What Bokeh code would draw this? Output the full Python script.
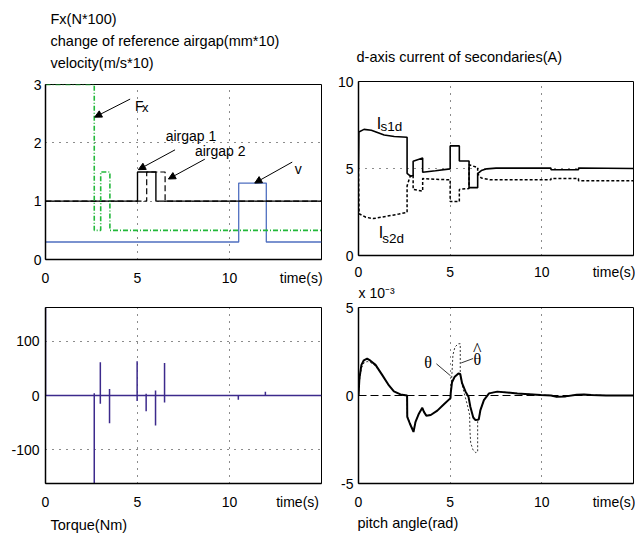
from bokeh.plotting import figure
from bokeh.models import Range1d, FixedTicker, Label, Arrow, NormalHead, Title
from bokeh.layouts import row, column
from bokeh.embed import file_html
from bokeh.resources import INLINE

# ---------------- data ----------------
x_ticks = [0, 5, 10]

# panel 1: Fx, airgap references, velocity
fx_t = [0, 2.65, 2.65, 3.0, 3.0, 3.5, 3.5, 15]
fx_v = [3, 3, 0.5, 0.5, 1.5, 1.5, 0.5, 0.5]
ag1_t = [0, 5.0, 5.0, 6.0, 6.0, 15]
ag1_v = [1, 1, 1.5, 1.5, 1, 1]
ag2_t = [0, 5.5, 5.5, 6.5, 6.5, 15]
ag2_v = [1, 1, 1.5, 1.5, 1, 1]
vel_t = [0, 10.5, 10.5, 12.0, 12.0, 15]
vel_v = [0.3, 0.3, 1.31, 1.31, 0.3, 0.3]
p1_yticks = [0, 1, 2, 3]

# panel 2: d-axis currents
is1_t = [0, 0.02, 0.3, 0.7, 1.4, 1.95, 2.65, 2.65, 2.85, 2.98, 2.98, 3.5, 3.5, 4.2, 5.0, 5.0,
         5.5, 5.5, 6.03, 6.03, 6.5, 6.5, 6.7, 7.0, 7.5, 10.5, 10.5, 12.0, 12.0, 15]
is1_v = [5.0, 7.1, 7.25, 7.2, 6.93, 6.84, 6.8, 4.72, 4.55, 4.6, 5.42, 5.6, 4.78, 4.87, 4.98, 6.3,
         6.3, 5.43, 5.43, 3.9, 3.9, 4.7, 4.88, 4.98, 5.02, 5.02, 4.93, 4.93, 5.03, 5.0]
is2_t = [0, 0.03, 0.4, 0.8, 1.5, 2.2, 2.65, 2.65, 2.8, 2.9, 2.98, 2.98, 3.5, 3.5, 4.2, 5.0, 5.0,
         5.5, 5.5, 6.03, 6.03, 6.5, 6.5, 6.7, 7.2, 10.5, 10.5, 12.0, 12.0, 15]
is2_v = [5.0, 2.4, 2.2, 2.12, 2.25, 2.38, 2.48, 4.0, 4.5, 4.65, 4.6, 3.8, 3.7, 4.42, 4.38, 4.35, 3.1,
         3.1, 3.8, 3.85, 5.22, 5.05, 4.7, 4.45, 4.35, 4.35, 4.42, 4.42, 4.3, 4.3]
p2_yticks = [0, 5, 10]

# panel 3: torque spikes
tq_base_t = [0, 15]
tq_base_v = [0, 0]
sp_t = [0.0, 2.65, 2.98, 3.48, 4.98, 5.47, 5.98, 6.47, 10.48, 11.95]
sp_hi = [162, 4, 61, 12, 63, 3, 9, 60, 0, 7]
sp_lo = [0, -162, -15, -51, -10, -29, -55, -13, -8, 0]
p3_yticks = [-100, 0, 100]

# panel 4: pitch angle (x 1e-3 rad)
th_t = [0, 0.05, 0.16, 0.29, 0.47, 0.65, 0.93, 1.29, 1.66, 1.93, 2.29, 2.65, 2.66, 2.8, 3.0, 3.11,
        3.3, 3.48, 3.57, 3.7, 3.94, 4.3, 4.66, 5.02, 5.03, 5.1, 5.25, 5.45, 5.55, 5.65, 5.84, 6.0,
        6.1, 6.26, 6.38, 6.56, 6.65, 6.84, 7.12, 7.57, 8.66, 9.94, 10.5, 10.8, 11.3, 11.9, 12.3,
        12.7, 13.5, 15]
th_v = [0, 0.98, 1.74, 2.0, 2.09, 1.98, 1.74, 1.17, 0.57, 0.23, 0.06, 0.0, -1.21, -1.59, -2.07, -1.5,
        -1.02, -0.7, -0.93, -1.15, -1.11, -0.86, -0.5, -0.15, 0.13, 0.75, 1.07, 1.25, 1.22, 0.7, 0.22,
        -0.07, -0.64, -1.25, -1.4, -1.36, -0.83, -0.26, 0.12, 0.22, 0.12, 0.03, 0.0, -0.07, -0.05,
        0.04, 0.06, 0.03, 0.0, 0.0]
thh_t = [0, 0.05, 0.16, 0.29, 0.47, 0.65, 0.93, 1.29, 1.66, 1.93, 2.29, 2.65, 2.66, 2.8, 3.0, 3.11,
         3.3, 3.48, 3.57, 3.7, 3.94, 4.3, 4.66, 5.0, 5.05, 5.1, 5.15, 5.26, 5.44, 5.55, 5.55, 5.65,
         5.8, 5.95, 6.06, 6.08, 6.12, 6.25, 6.4, 6.5, 6.5, 6.56, 6.65, 6.84, 7.12, 7.57, 8.66, 9.94,
         10.5, 10.8, 11.3, 11.9, 12.3, 12.7, 13.5, 15]
thh_v = [0, 0.8, 1.55, 1.85, 1.93, 1.88, 1.68, 1.15, 0.57, 0.23, 0.06, 0.0, -1.15, -1.55, -2.0, -1.48,
         -1.0, -0.7, -0.92, -1.12, -1.1, -0.86, -0.5, -0.15, 0.5, 1.3, 2.3, 2.75, 2.94, 2.94, 1.2, 0.6,
         0.0, -0.6, -1.1, -2.0, -2.7, -3.1, -3.25, -3.2, -1.4, -1.36, -0.83, -0.26, 0.12, 0.22, 0.12,
         0.03, 0.0, -0.07, -0.05, 0.04, 0.06, 0.03, 0.0, 0.0]
zero_t = [0, 15]
zero_v = [0, 0]
p4_yticks = [-5, 0, 5]

FONT = "Liberation Sans"


def make_fig(w, h, bl, br, bt, bb, yr, yticks, ygrid, ystand, tpos, xstand=10):
    p = figure(width=w, height=h, x_range=Range1d(0, 15), y_range=Range1d(*yr),
               output_backend="svg", toolbar_location=None,
               min_border_left=bl, min_border_right=br, min_border_top=bt, min_border_bottom=bb)
    p.background_fill_color = "white"
    p.border_fill_color = "white"
    p.outline_line_color = "black"
    p.outline_line_width = 1
    p.outline_line_alpha = 1
    p.xaxis.ticker = FixedTicker(ticks=x_ticks + [tpos])
    p.xaxis.major_label_overrides = {tpos: "time(s)", str(tpos): "time(s)"}
    p.yaxis.ticker = FixedTicker(ticks=yticks)
    neg = {t: str(t) for t in yticks if t < 0}
    neg.update({str(t): str(t) for t in yticks if t < 0})
    p.yaxis.major_label_overrides = neg
    for ax in (p.xaxis, p.yaxis):
        ax.major_tick_in = 0
        ax.major_tick_out = 0
        ax.minor_tick_in = 0
        ax.minor_tick_out = 0
        ax.axis_line_width = 1.5
        ax.axis_line_color = "black"
        ax.major_label_text_font = FONT
        ax.major_label_text_font_size = "14px"
        ax.major_label_text_color = "black"
    p.xaxis.major_label_standoff = xstand
    p.yaxis.major_label_standoff = ystand
    p.xgrid.ticker = FixedTicker(ticks=[5, 10])
    if ygrid:
        p.ygrid.ticker = FixedTicker(ticks=ygrid)
    else:
        p.ygrid.visible = False
    for g in (p.xgrid, p.ygrid):
        g.grid_line_color = "black"
        g.grid_line_dash = "1 6"
        g.grid_line_width = 1
        g.grid_line_alpha = 0.9
    return p


def title(p, text, side, standoff=4.2, offset=0, size="14.5px"):
    p.add_layout(Title(text=text, align="left", offset=offset, standoff=standoff,
                       text_font=FONT, text_font_size=size, text_font_style="normal",
                       text_color="black"), side)


def spacer(p, side, standoff, size="4px"):
    p.add_layout(Title(text=" ", text_font_size=size, standoff=standoff,
                       text_font_style="normal"), side)


def lab(p, x, y, text, size="14px", font=FONT, align="left"):
    p.add_layout(Label(x=x, y=y, text=text, text_font=font, text_font_size=size,
                       text_baseline="alphabetic", text_align=align, text_color="black"))


def arrow(p, x0, y0, x1, y1):
    p.add_layout(Arrow(end=NormalHead(size=7, line_color="black", fill_color="black", line_width=1),
                       x_start=x0, y_start=y0, x_end=x1, y_end=y1,
                       line_color="black", line_width=1))


# ---- panel 1 ----
p1 = make_fig(330, 290, 45, 9, 84, 31, (0, 3), p1_yticks, [1, 2], 4, 13.9)
p1.line(vel_t, vel_v, line_color="#4f6fc0", line_width=1.3)
p1.line(ag2_t, ag2_v, line_color="black", line_width=1.2, line_dash="6 3")
p1.line(ag1_t, ag1_v, line_color="black", line_width=1.4)
p1.line(fx_t, fx_v, line_color="#22b83a", line_width=1.6, line_dash="5 2 1 2")
spacer(p1, "above", 3.9)
title(p1, "velocity(m/s*10)", "above", offset=5)
title(p1, "change of reference airgap(mm*10)", "above", offset=5)
title(p1, "Fx(N*100)", "above", offset=5)
lab(p1, 4.87, 2.64, "F")
lab(p1, 5.24, 2.60, "x", size="13px")
arrow(p1, 4.6, 2.75, 2.67, 2.44)
lab(p1, 6.53, 2.11, "airgap 1")
arrow(p1, 7.04, 1.88, 5.05, 1.54)
lab(p1, 8.12, 1.86, "airgap 2")
arrow(p1, 8.66, 1.72, 6.68, 1.38)
lab(p1, 13.54, 1.55, "v")
arrow(p1, 13.41, 1.67, 11.37, 1.31)

# ---- panel 2 ----
p2 = make_fig(305, 282, 28, 2, 81, 25, (0, 10), p2_yticks, [5], 5, 13.95, xstand=8)
p2.line(is2_t, is2_v, line_color="black", line_width=1.5, line_dash="3 2")
p2.line(is1_t, is1_v, line_color="black", line_width=1.6)
spacer(p2, "above", 7.1)
title(p2, "d-axis current of secondaries(A)", "above", offset=-2)
lab(p2, 1.0, 7.59, "I", size="16px")
lab(p2, 1.2, 7.39, "s1d", size="13.5px")
lab(p2, 1.1, 1.35, "I", size="16px")
lab(p2, 1.3, 1.0, "s2d", size="13.5px")

# ---- panel 3 ----
p3 = make_fig(330, 248, 45, 9, 17, 55, (-162, 162), p3_yticks, [-100, 0, 100], 6, 13.7)
p3.line(tq_base_t, tq_base_v, line_color="#3c2a8c", line_width=1.5)
p3.segment(x0=sp_t, y0=sp_lo, x1=sp_t, y1=sp_hi, line_color="#3c2a8c", line_width=1.5)
title(p3, "Torque(Nm)", "below", standoff=5, offset=5)

# ---- panel 4 ----
p4 = make_fig(305, 256, 28, 2, 25, 55, (-5, 5), p4_yticks, None, 5, 13.95)
p4.line(zero_t, zero_v, line_color="black", line_width=1, line_dash="8 4")
p4.line(thh_t, thh_v, line_color="black", line_width=0.8, line_dash="2 2")
p4.line(th_t, th_v, line_color="black", line_width=2)
p4.segment(x0=[4.25], y0=[1.8], x1=[5.02], y1=[1.12], line_color="black", line_width=0.8)
p4.segment(x0=[6.25], y0=[2.1], x1=[5.6], y1=[1.85], line_color="black", line_width=0.8)
lab(p4, 3.8, 1.9, "\u03b8", size="16px", font="Liberation Serif", align="center")
lab(p4, 6.48, 2.07, "\u03b8", size="16px", font="Liberation Serif", align="center")
lab(p4, 6.48, 2.6, "^", size="18px", font="Liberation Serif", align="center")
spacer(p4, "above", 2.5, size="2px")
title(p4, "x 10\u207b\u00b3", "above", standoff=0, offset=0, size="14px")
title(p4, "pitch angle(rad)", "below", standoff=0, offset=-1)

layout = row(column(p1, p3), column(p2, p4))
open("out.html", "w").write(file_html(layout, INLINE))
